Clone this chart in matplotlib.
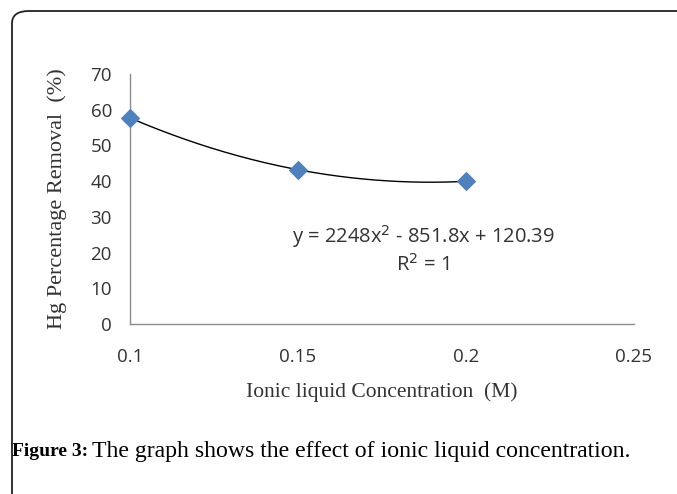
import numpy as np
import matplotlib
matplotlib.use("Agg")
import matplotlib.pyplot as plt
from matplotlib.patches import FancyBboxPatch

# Data
concentration = [0.1, 0.15, 0.2]
removal = [57.7, 43.2, 39.95]
x_ticks = [0.1, 0.15, 0.2, 0.25]
x_tick_labels = ["0.1", "0.15", "0.2", "0.25"]
y_ticks = [0, 10, 20, 30, 40, 50, 60, 70]

W, H = 677, 494
fig = plt.figure(figsize=(W / 100, H / 100), dpi=100)
fig.patch.set_facecolor("white")

# Rounded frame (open to the right and bottom, as cropped)
frame = FancyBboxPatch((12 / W, -0.2), 1.2, (494 - 11) / H + 0.2,
                       boxstyle="round,pad=0,rounding_size=0.025",
                       transform=fig.transFigure, fill=False,
                       edgecolor="#222222", linewidth=1.3, clip_on=False)
fig.patches.append(frame)

ax = fig.add_axes([130 / W, 1 - 324 / H, (634 - 130) / W, (324 - 74) / H])
ax.set_xlim(0.1, 0.25)
ax.set_ylim(0, 70)

# Trendline (2nd-order polynomial fit)
coef = np.polyfit(concentration, removal, 2)
xs = np.linspace(min(concentration), max(concentration), 200)
ax.plot(xs, np.polyval(coef, xs), color="black", linewidth=1.0, zorder=2)

ax.scatter(concentration, removal, marker="D", s=80, color="#4F81BD",
           edgecolor="#4F81BD", zorder=3, clip_on=False)

for side in ["top", "right"]:
    ax.spines[side].set_visible(False)
for side in ["left", "bottom"]:
    ax.spines[side].set_color("#8C8C8C")
    ax.spines[side].set_linewidth(1.0)

ax.set_xticks(x_ticks)
ax.set_xticklabels(x_tick_labels)
ax.set_yticks(y_ticks)
ax.tick_params(axis="both", length=0, labelsize=13.5, colors="#333333")
ax.tick_params(axis="x", pad=17)
ax.tick_params(axis="y", pad=13)
for lab in ax.get_xticklabels() + ax.get_yticklabels():
    lab.set_family("Open Sans")

ax.set_ylabel("Hg Percentage Removal  (%)", family="Liberation Serif",
              fontsize=16, color="#333333", labelpad=17)
ax.set_xlabel("Ionic liquid Concentration  (M)", family="Liberation Serif",
              fontsize=15.5, color="#333333", labelpad=12)

ax.text(0.1872, 24.4, "y = 2248x$^2$ - 851.8x + 120.39", ha="center",
        va="center", family="Open Sans", fontsize=14.5, color="#333333")
ax.text(0.1872, 16.6, "R$^2$ = 1", ha="center", va="center",
        family="Open Sans", fontsize=14.5, color="#333333")

# Caption
fig.text(12 / W, 1 - 451 / H, "Figure 3:", family="Liberation Serif",
         fontweight="bold", fontsize=14, va="center", ha="left")
fig.text(92 / W, 1 - 451 / H,
         "The graph shows the effect of ionic liquid concentration.",
         family="Liberation Serif", fontsize=17.1, va="center", ha="left")

fig.savefig("out.png", dpi=100)
